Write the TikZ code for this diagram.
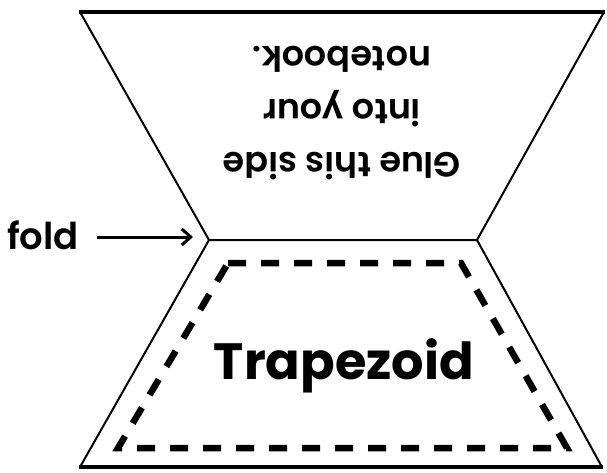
\documentclass[tikz,border=0pt]{standalone}
\usepackage{fontspec}
\setmainfont{Poppins}
\usetikzlibrary{arrows.meta}
\newfontfamily\handfont{Poppins SemiBold}
\newfontfamily\boldfont{Poppins Bold}
\tikzset{
  edge/.style={line width=2pt, line join=miter},
  thickedge/.style={line width=3.5pt, line cap=butt},
  cutline/.style={line width=6.5pt, dash pattern=on 18pt off 15pt},
  hand/.style={font=\handfont\fontsize{35}{53}\selectfont, align=center, inner sep=0pt},
}
\begin{document}
\begin{tikzpicture}[x=1pt,y=-1pt]
\useasboundingbox (0,0) rectangle (607,473);
% outer corners
\coordinate (tl) at (80,12);
\coordinate (tr) at (604,12);
\coordinate (fl) at (209,240);
\coordinate (fr) at (477,240);
\coordinate (bl) at (80,467);
\coordinate (br) at (602,467);
% dashed corners
\coordinate (dtl) at (228,263);
\coordinate (dtr) at (461,263);
\coordinate (dbr) at (567,448);
\coordinate (dbl) at (118,448);
% shapes
\draw[edge] (tl) -- (fl) -- (fr) -- (tr);
\draw[edge] (fl) -- (bl);
\draw[edge] (fr) -- (br);
\draw[thickedge] ([xshift=-1pt]tl) -- ([xshift=1pt]tr);
\draw[thickedge] ([xshift=-1pt]bl) -- ([xshift=1pt]br);
\draw[cutline] (dtl) -- (dtr) -- (dbr) -- (dbl) -- cycle;
% texts
\node[hand, rotate=180] (glue) at (342,113) {Glue this side\\into your\\notebook.};
\node[inner sep=0pt, font=\boldfont\fontsize{51}{60}\selectfont] (trap) at (344,366) {Trapezoid};
\node[hand, anchor=base west, font=\handfont\fontsize{37}{40}\selectfont] (fold) at (7,249) {fold};
\coordinate (arrowend) at (193,237);
\draw[line width=3pt, -{Straight Barb[length=9pt, width=16pt, line width=3pt]}] (97,237) -- (arrowend);
\end{tikzpicture}
\end{document}
